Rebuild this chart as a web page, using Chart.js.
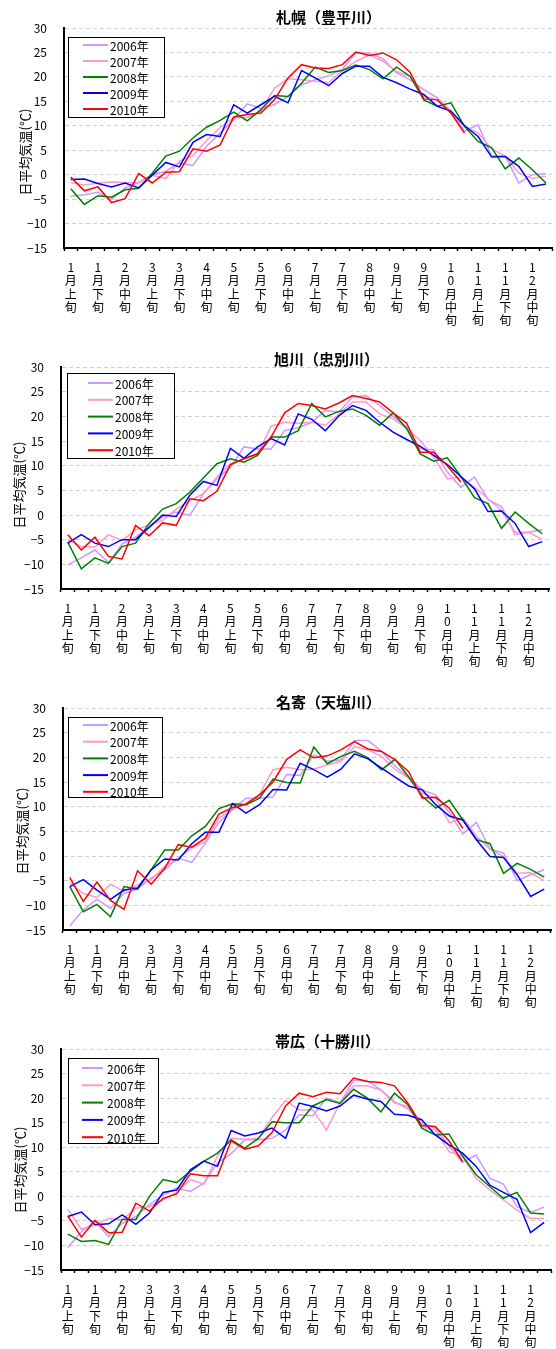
<!DOCTYPE html>
<html>
<head>
<meta charset="utf-8">
<script src="https://cdn.jsdelivr.net/npm/chart.js@4"></script>
<style>
  body { margin: 0; background: #fff; width: 556px; height: 1349px; overflow: hidden; position: relative; }
  canvas { position: absolute; left: 0; display: block; }
</style>
</head>
<body>
<canvas id="c1" width="556" height="338" style="top:0px"></canvas>
<canvas id="c2" width="556" height="340" style="top:339px"></canvas>
<canvas id="c3" width="556" height="340" style="top:680px"></canvas>
<canvas id="c4" width="556" height="328" style="top:1021px"></canvas>
<script>
// 旬ごとのカテゴリ (36)
const periods = [
    '1月上旬', '1月中旬', '1月下旬', '2月上旬', '2月中旬', '2月下旬',
    '3月上旬', '3月中旬', '3月下旬', '4月上旬', '4月中旬', '4月下旬',
    '5月上旬', '5月中旬', '5月下旬', '6月上旬', '6月中旬', '6月下旬',
    '7月上旬', '7月中旬', '7月下旬', '8月上旬', '8月中旬', '8月下旬',
    '9月上旬', '9月中旬', '9月下旬', '10月上旬', '10月中旬', '10月下旬',
    '11月上旬', '11月中旬', '11月下旬', '12月上旬', '12月中旬', '12月下旬'
];
const years = ['2006年', '2007年', '2008年', '2009年', '2010年'];
const yTicks = [-15, 30, 5];

// 札幌(豊平川)
const sapporo2006 = [-4.4, -4.1, -3.6, -5.1, -2.7, -1.6, 0.0, 0.7, 2.4, 1.9, 5.8, 8.5, 11.3, 14.5, 13.6, 14.3, 16.0, 18.4, 19.4, 20.2, 21.6, 24.9, 24.9, 23.7, 20.8, 19.4, 17.4, 15.7, 13.0, 8.9, 10.2, 3.8, 3.8, -1.7, 0.0, 0.2];
const sapporo2007 = [-1.6, -2.1, -1.7, -1.5, -1.6, -1.7, -0.1, -0.8, 2.8, 3.9, 7.0, 9.6, 11.7, 11.7, 13.0, 17.7, 19.6, 19.4, 19.1, 18.8, 21.3, 23.2, 24.5, 23.2, 21.1, 20.0, 16.0, 15.3, 12.6, 9.9, 8.5, 5.3, 3.8, 0.3, -0.8, -0.3];
const sapporo2008 = [-2.9, -6.1, -4.3, -4.6, -3.1, -2.8, 0.3, 3.8, 4.8, 7.5, 9.7, 11.1, 12.8, 11.0, 13.3, 16.2, 16.0, 18.7, 22.0, 20.9, 21.3, 22.4, 21.5, 19.6, 22.0, 20.1, 15.3, 14.0, 14.7, 9.9, 6.8, 5.5, 1.2, 3.4, 1.0, -1.7];
const sapporo2009 = [-1.0, -0.9, -1.8, -2.5, -1.7, -2.7, -0.1, 2.5, 1.6, 6.6, 8.2, 7.8, 14.3, 12.6, 14.3, 16.0, 14.7, 21.3, 19.8, 18.2, 20.7, 22.2, 22.2, 19.9, 18.8, 17.5, 16.4, 14.0, 13.0, 10.0, 7.8, 3.6, 3.7, 1.7, -2.4, -1.9];
const sapporo2010 = [-0.5, -3.3, -2.5, -5.7, -4.9, 0.2, -1.7, 0.5, 0.6, 5.3, 4.8, 6.1, 11.8, 12.3, 12.6, 15.3, 19.8, 22.5, 21.8, 21.7, 22.5, 25.1, 24.4, 24.9, 23.5, 20.9, 15.5, 15.3, 12.6, 8.5, null, null, null, null, null, null];

// 旭川(忠別川)
const asahikawa2006 = [-10.1, -8.7, -7.1, -9.6, -5.9, -4.5, -2.5, -0.4, 0.6, -0.1, 4.3, 7.3, 9.7, 13.8, 13.4, 13.4, 17.1, 17.7, 18.8, 21.2, 20.9, 23.9, 24.2, 22.2, 20.0, 17.8, 13.4, 13.2, 8.7, 5.6, 7.7, 3.1, 1.7, -4.0, -3.5, -3.0];
const asahikawa2007 = [-5.0, -6.4, -6.5, -4.0, -5.2, -3.0, -2.0, -1.1, 1.2, 2.9, 4.3, 7.7, 10.4, 11.4, 12.4, 18.0, 18.8, 18.6, 18.8, 18.2, 20.4, 22.9, 22.9, 20.5, 19.5, 17.6, 15.1, 11.7, 7.3, 7.7, 5.6, 3.3, 0.9, -3.5, -3.5, -5.0];
const asahikawa2008 = [-5.5, -10.9, -8.7, -9.8, -6.4, -5.7, -1.7, 1.2, 2.3, 4.6, 7.5, 10.4, 11.4, 10.7, 12.1, 15.8, 15.8, 17.1, 22.6, 19.9, 21.0, 21.5, 20.2, 18.2, 20.7, 17.5, 12.4, 10.9, 11.6, 7.8, 3.5, 2.3, -2.7, 0.6, -1.7, -3.8];
const asahikawa2009 = [-5.7, -4.0, -5.7, -6.4, -5.0, -5.0, -2.5, 0.0, -0.3, 4.0, 6.8, 6.0, 13.5, 11.5, 13.8, 15.5, 14.2, 20.5, 19.4, 17.1, 20.1, 22.2, 21.2, 18.8, 16.8, 15.3, 13.9, 12.1, 10.2, 7.8, 5.3, 0.7, 0.8, -1.7, -6.4, -5.4];
const asahikawa2010 = [-4.0, -7.1, -4.5, -8.4, -8.9, -2.1, -4.2, -1.6, -2.1, 3.3, 2.9, 4.8, 10.2, 11.4, 12.4, 15.8, 20.7, 22.6, 22.2, 21.5, 22.7, 24.2, 23.6, 22.9, 20.7, 18.6, 12.7, 12.7, 10.0, 6.7, null, null, null, null, null, null];

// 名寄(天塩川)
const nayoro2006 = [-14.2, -10.9, -8.8, -10.6, -7.6, -6.7, -4.5, -2.8, -0.4, -1.3, 2.6, 6.8, 9.4, 11.7, 11.7, 12.0, 16.5, 16.3, 20.5, 19.2, 19.5, 23.4, 23.4, 21.2, 18.2, 16.0, 13.4, 12.4, 8.8, 4.5, 6.8, 1.4, 0.6, -5.0, -3.8, -2.8];
const nayoro2007 = [-5.5, -7.6, -8.4, -5.7, -7.2, -5.9, -4.8, -2.1, -0.4, 1.6, 2.9, 7.7, 9.4, 10.7, 12.5, 17.5, 18.0, 17.5, 17.6, 18.5, 19.2, 22.2, 21.5, 20.2, 17.5, 15.8, 12.7, 11.7, 6.7, 7.7, 4.0, 1.4, -0.1, -3.5, -3.4, -5.0];
const nayoro2008 = [-6.2, -11.3, -9.8, -12.3, -6.2, -6.7, -2.8, 1.2, 1.2, 4.1, 6.0, 9.6, 10.6, 10.4, 11.7, 15.6, 14.9, 14.8, 22.1, 18.7, 20.2, 21.2, 19.9, 17.5, 19.6, 16.0, 12.1, 9.7, 11.3, 7.3, 3.3, 2.5, -3.5, -1.5, -2.7, -4.3];
const nayoro2009 = [-6.2, -4.8, -6.9, -8.8, -6.9, -6.5, -2.8, -0.6, -0.8, 2.5, 4.8, 4.8, 10.6, 8.7, 10.4, 13.5, 13.4, 18.8, 17.5, 16.0, 17.6, 20.7, 19.7, 17.8, 16.0, 14.2, 13.4, 10.4, 8.1, 7.3, 3.3, -0.1, -0.3, -3.8, -8.2, -6.7];
const nayoro2010 = [-4.4, -9.2, -5.3, -9.0, -10.8, -3.0, -5.7, -2.5, 2.3, 1.8, 3.6, 8.5, 9.8, 10.5, 12.4, 15.0, 19.6, 21.5, 19.9, 20.3, 21.5, 23.2, 21.7, 21.2, 19.5, 17.1, 11.7, 11.9, 9.7, 5.6, null, null, null, null, null, null];

// 帯広(十勝川)
const obihiro2006 = [-10.4, -7.2, -5.1, -8.2, -5.5, -4.1, -1.7, 0.3, 1.7, 1.0, 2.7, 6.8, 8.7, 11.5, 11.5, 11.8, 13.5, 16.6, 16.4, 20.0, 19.1, 23.6, 23.6, 21.7, 19.3, 17.8, 14.9, 13.9, 10.3, 6.9, 8.4, 3.7, 2.5, -2.1, -3.3, -2.2];
const obihiro2007 = [-2.6, -6.7, -5.8, -4.5, -4.8, -2.4, -2.1, -0.7, 0.8, 3.4, 2.5, 8.2, 11.8, 11.6, 11.8, 16.0, 19.5, 17.6, 17.6, 13.5, 19.0, 22.5, 22.5, 21.6, 19.0, 18.3, 14.2, 13.5, 9.1, 8.2, 3.7, 1.3, -0.7, -2.8, -4.5, -4.5];
const obihiro2008 = [-7.7, -9.2, -9.0, -9.8, -4.7, -4.7, 0.0, 3.4, 2.8, 5.1, 7.1, 8.8, 11.5, 9.8, 11.8, 15.2, 15.0, 15.0, 18.4, 19.7, 18.9, 21.8, 20.0, 17.2, 21.0, 18.6, 13.9, 12.5, 12.7, 8.2, 4.4, 2.0, -0.4, 0.8, -3.4, -3.6];
const obihiro2009 = [-4.1, -3.2, -5.8, -5.6, -3.8, -5.7, -3.4, 0.8, 1.3, 5.4, 7.2, 6.1, 13.4, 12.3, 12.9, 13.9, 11.8, 19.0, 18.3, 17.4, 18.4, 20.6, 19.8, 19.3, 16.7, 16.5, 15.6, 12.5, 10.5, 8.8, 6.1, 2.3, 0.8, -0.6, -7.4, -5.3];
const obihiro2010 = [-4.0, -8.3, -4.9, -7.4, -7.3, -1.4, -3.0, -0.4, 0.5, 4.6, 4.2, 4.2, 11.3, 9.6, 10.3, 13.0, 18.4, 21.0, 20.3, 21.2, 20.9, 24.1, 23.4, 23.2, 22.5, 18.9, 14.4, 14.2, 11.3, 7.1, null, null, null, null, null, null];

const colors = ['#cc99ff', '#ff99cc', '#008000', '#0000ff', '#ff0000'];
const FONT = '"Noto Sans CJK JP", "Noto Sans", sans-serif';

Chart.defaults.font.family = FONT;
Chart.defaults.color = '#000';

// タイトル・縦軸タイトル・凡例を描く
const decor = {
    id: 'decor',
    afterDraw(chart, args, o) {
        const ctx = chart.ctx;
        ctx.save();
        ctx.fillStyle = '#000';
        ctx.textBaseline = 'middle';
        ctx.textAlign = 'left';
        ctx.font = 'bold 15px ' + FONT;
        ctx.fillText(o.title, o.titleX, o.titleY);

        ctx.save();
        ctx.translate(o.yTitleX, o.yTitleY);
        ctx.rotate(-Math.PI / 2);
        ctx.textAlign = 'center';
        ctx.font = '13px ' + FONT;
        ctx.fillText('日平均気温(℃)', 0, 0);
        ctx.restore();

        const lg = o.legend;
        ctx.fillStyle = '#fff';
        ctx.fillRect(lg.x, lg.y, lg.w, lg.h);
        ctx.strokeStyle = '#000';
        ctx.lineWidth = 1;
        ctx.strokeRect(lg.x + 0.5, lg.y + 0.5, lg.w, lg.h);
        ctx.font = '12px ' + FONT;
        chart.data.datasets.forEach((ds, k) => {
            const y = lg.row0 + k * lg.step;
            ctx.strokeStyle = ds.borderColor;
            ctx.lineWidth = 2;
            ctx.beginPath();
            ctx.moveTo(lg.x1, y);
            ctx.lineTo(lg.x2, y);
            ctx.stroke();
            ctx.fillStyle = '#000';
            ctx.fillText(ds.label, lg.tx, y + 1);
        });
        ctx.restore();
    }
};

function renderChart(st) {
    const xHeight = st.h - 28 - st.plotH;
    new Chart(document.getElementById(st.id), {
        type: 'line',
        data: {
            labels: periods,
            datasets: st.series.map((values, k) => ({
                label: years[k],
                data: values,
                borderColor: colors[k],
                backgroundColor: colors[k],
                borderWidth: 1.5,
                pointRadius: 0,
                tension: 0,
                fill: false,
                order: 5 - k
            }))
        },
        options: {
            responsive: false,
            animation: false,
            layout: { padding: { top: 28, left: 0, right: 556 - st.right, bottom: 0 } },
            plugins: {
                legend: { display: false },
                tooltip: { enabled: false },
                decor: st
            },
            scales: {
                x: {
                    offset: true,
                    grid: {
                        offset: true,
                        drawOnChartArea: false,
                        drawTicks: true,
                        tickLength: 3,
                        tickColor: '#000',
                        tickWidth: 1.5
                    },
                    border: { color: '#000', width: 2 },
                    ticks: {
                        autoSkip: false,
                        maxRotation: 0,
                        minRotation: 0,
                        padding: 10,
                        font: { size: 12, lineHeight: 1.1 },
                        callback: function(value, index) {
                            return index % 2 === 0 ? Array.from(this.getLabelForValue(value)) : '';
                        }
                    },
                    afterFit: s => { s.height = xHeight; }
                },
                y: {
                    min: yTicks[0],
                    max: yTicks[1],
                    grid: { color: '#cfcfcf', lineWidth: 1, drawTicks: false },
                    border: { color: '#000', width: 2, dash: [4, 3] },
                    ticks: {
                        stepSize: yTicks[2],
                        padding: 17,
                        font: { size: 12 },
                        callback: v => (v < 0 ? '\u2212' + Math.abs(v) : String(v))
                    },
                    afterFit: s => { s.width = st.left; }
                }
            }
        },
        plugins: [decor]
    });
}

const stations = [
    { id: 'c1', h: 338, left: 64, right: 554, plotH: 220,
      title: '札幌（豊平川）', titleX: 276, titleY: 17, yTitleX: 25, yTitleY: 152,
      legend: { x: 68, y: 37, w: 96, h: 80, x1: 83, x2: 108, tx: 110, row0: 45, step: 16 },
      series: [sapporo2006, sapporo2007, sapporo2008, sapporo2009, sapporo2010] },
    { id: 'c2', h: 340, left: 61, right: 549, plotH: 222,
      title: '旭川（忠別川）', titleX: 274, titleY: 20, yTitleX: 19, yTitleY: 146,
      legend: { x: 67, y: 34, w: 107, h: 85, x1: 88, x2: 113, tx: 115, row0: 44, step: 16.8 },
      series: [asahikawa2006, asahikawa2007, asahikawa2008, asahikawa2009, asahikawa2010] },
    { id: 'c3', h: 340, left: 63, right: 551, plotH: 222,
      title: '名寄（天塩川）', titleX: 276, titleY: 22, yTitleX: 22, yTitleY: 151,
      legend: { x: 68, y: 37, w: 94, h: 80, x1: 83, x2: 108, tx: 110, row0: 45, step: 16.7 },
      series: [nayoro2006, nayoro2007, nayoro2008, nayoro2009, nayoro2010] },
    { id: 'c4', h: 328, left: 61, right: 551, plotH: 221,
      title: '帯広（十勝川）', titleX: 275, titleY: 20.5, yTitleX: 20, yTitleY: 149,
      legend: { x: 68, y: 37, w: 90, h: 85, x1: 82, x2: 103, tx: 107, row0: 47, step: 17.3 },
      series: [obihiro2006, obihiro2007, obihiro2008, obihiro2009, obihiro2010] }
];

stations.forEach(renderChart);
</script>
</body>
</html>
